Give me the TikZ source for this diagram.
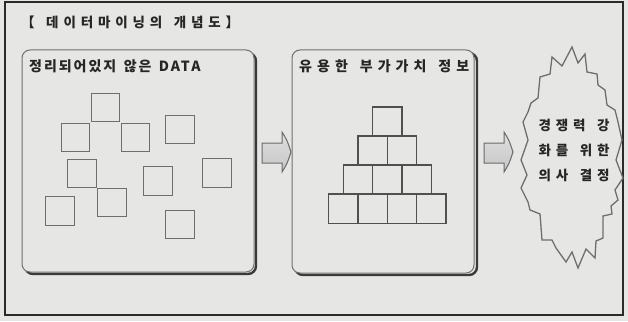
\documentclass[tikz,border=0pt]{standalone}
\usepackage{fontspec}
\newfontfamily\krt[LetterSpace=36,WordSpace=1.6]{Noto Sans CJK KR}
\newfontfamily\krl[LetterSpace=14,WordSpace=1.45]{Noto Sans CJK KR}
\newfontfamily\krm[LetterSpace=36,WordSpace=1.45]{Noto Sans CJK KR}
\newfontfamily\krb[LetterSpace=36,WordSpace=1.6]{Noto Sans CJK KR}
\definecolor{bg}{HTML}{E6E7E5}
\definecolor{framec}{HTML}{2A2A2A}
\definecolor{sqc}{HTML}{6E6E6E}
\definecolor{pyc}{HTML}{505050}
\definecolor{panelc}{HTML}{707070}
\definecolor{shadowc}{HTML}{3A3A3A}
\definecolor{txt}{HTML}{262626}
\definecolor{arrowc}{HTML}{6A6A6A}
\begin{document}
\begin{tikzpicture}[x=1pt,y=-1pt,
  sq/.style={draw=sqc, line width=1.3pt, minimum size=28.5pt, inner sep=0pt, outer sep=0pt},
  pq/.style={draw=pyc, line width=1.3pt, minimum size=29.3pt, inner sep=0pt, outer sep=0pt},
  panel/.style={draw=panelc, line width=1pt, fill=bg, rounded corners=8pt},
  shadowp/.style={draw=shadowc, line width=2.4pt, rounded corners=8pt},
  lbl/.style={anchor=west, text=txt, inner sep=0pt},
  blockarrow/.style={draw=arrowc, line width=1pt, top color=gray!25, bottom color=gray!45},
  burst/.style={draw=sqc, line width=1.3pt, fill=bg, line join=miter}]
\useasboundingbox (0,0) rectangle (628,321);
\fill[bg] (0,0) rectangle (628,321);
\draw[framec, line width=2pt] (5,2) rectangle (623,315);

% title
\node[lbl, font=\krt\bfseries\fontsize{13.5}{16}\selectfont] (title) at (21,22) {【 데이터마이닝의 개념도】};

% left panel
\draw[shadowp] (25,53) rectangle (256,274);
\draw[panel] (22,50) rectangle (254,272);
\node[lbl, font=\krl\bfseries\fontsize{14}{16}\selectfont] (l1) at (29,66) {정리되어있지 않은 DATA};

% middle panel
\draw[shadowp] (295,53) rectangle (477,275);
\draw[panel] (292,50) rectangle (474,273);
\node[lbl, font=\krm\bfseries\fontsize{14}{16}\selectfont] (l2) at (299,66) {유용한 부가가치 정보};

% scattered squares
\node[sq] (s1) at (105.5,107.5) {};
\node[sq] (s2) at (75.5,137.5) {};
\node[sq] (s3) at (135.5,137.5) {};
\node[sq] (s4) at (180,129.5) {};
\node[sq] (s5) at (82,173.5) {};
\node[sq] (s6) at (112,202.5) {};
\node[sq] (s7) at (60,211) {};
\node[sq] (s8) at (158,181) {};
\node[sq] (s9) at (217,173) {};
\node[sq] (s10) at (180,224.5) {};

% pyramid
\foreach \k in {0,...,3}{
  \foreach \i in {0,...,\k}{
    \node[pq] (p\k\i) at ({387.3+(\i-\k/2)*29.3},{121.5+29*\k}) {};
  }
}

% block arrows
\draw[blockarrow] (262,143) -- (282,143) -- (282,132)
  .. controls (287,140) .. (291,152) .. controls (287,164) .. (282,172)
  -- (282,163) -- (262,163) -- cycle;
\draw[blockarrow] (484,143) -- (504,143) -- (504,132)
  .. controls (509,140) .. (513,152) .. controls (509,164) .. (504,172)
  -- (504,163) -- (484,163) -- cycle;

% burst
\draw[burst] (552,57) -- (562,66) -- (572,47) -- (578,63) -- (585,54) -- (587,72)
  -- (597,74) -- (598,85) -- (605,90) -- (607,105) -- (615,110) -- (618,122)
  -- (622,140) -- (616,160) -- (623,178) -- (615,190) -- (618,200) -- (611,206)
  -- (612,214) -- (603,216) -- (603,238) -- (596,241) -- (595,258) -- (586,249)
  -- (578,268) -- (572,252) -- (566,262) -- (556,248) -- (552,240) -- (542,240)
  -- (540,214) -- (530,210) -- (528,202) -- (521,188) -- (527,175) -- (521,160)
  -- (528,140) -- (523,122) -- (528,112) -- (531,103) -- (538,98) -- (540,77)
  -- (550,74) -- cycle;
\node[align=center, text=txt, inner sep=0pt, font=\krb\bfseries\fontsize{13.5}{25}\selectfont] (bt) at (574,150) {경쟁력 강\\화를 위한\\의사 결정};
\end{tikzpicture}
\end{document}
